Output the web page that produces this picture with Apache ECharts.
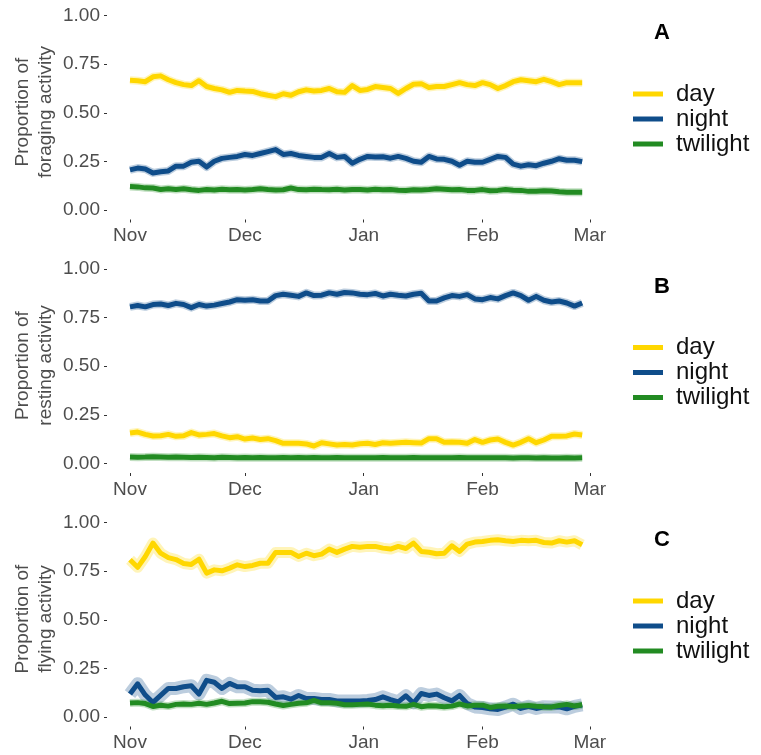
<!DOCTYPE html>
<html>
<head>
<meta charset="utf-8">
<script src="https://cdn.jsdelivr.net/npm/echarts@6/dist/echarts.min.js"></script>
<style>
html, body { margin: 0; padding: 0; background: #fff; }
#chart { width: 761px; height: 755px; }
</style>
</head>
<body>
<div id="chart"></div>
<script>
// days since Nov 1 (every second day)
const days = [0, 2, 4, 6, 8, 10, 12, 14, 16, 18, 20, 22, 24, 26, 28, 30, 32, 34, 36, 38,
  40, 42, 44, 46, 48, 50, 52, 54, 56, 58, 60, 62, 64, 66, 68, 70, 72, 74, 76, 78,
  80, 82, 84, 86, 88, 90, 92, 94, 96, 98, 100, 102, 104, 106, 108, 110, 112, 114, 116, 118]
const monthStarts = [0, 30, 61, 92, 120]
const monthNames = ['Nov', 'Dec', 'Jan', 'Feb', 'Mar']
const yTicks = [0, 0.25, 0.5, 0.75, 1]
const groups = ['day', 'night', 'twilight']
const panelLetters = ['A', 'B', 'C']
const yTitles = ['Proportion of\nforaging activity', 'Proportion of\nresting activity', 'Proportion of\nflying activity']

// A: foraging
const foragingDay = [0.667, 0.665, 0.66, 0.685, 0.69, 0.67, 0.655, 0.645, 0.64, 0.665, 0.635, 0.625, 0.618, 0.605, 0.615, 0.612, 0.61, 0.598, 0.59, 0.583,
  0.598, 0.59, 0.608, 0.618, 0.612, 0.615, 0.625, 0.608, 0.605, 0.64, 0.615, 0.62, 0.635, 0.63, 0.625, 0.60, 0.625, 0.647, 0.65, 0.63,
  0.635, 0.635, 0.645, 0.655, 0.645, 0.64, 0.655, 0.645, 0.625, 0.64, 0.66, 0.67, 0.665, 0.66, 0.672, 0.66, 0.645, 0.655, 0.655, 0.655]
const foragingNight = [0.206, 0.215, 0.21, 0.19, 0.196, 0.20, 0.225, 0.225, 0.245, 0.25, 0.22, 0.25, 0.265, 0.27, 0.275, 0.285, 0.28, 0.29, 0.30, 0.31,
  0.285, 0.29, 0.28, 0.275, 0.27, 0.27, 0.29, 0.27, 0.275, 0.24, 0.26, 0.275, 0.272, 0.273, 0.266, 0.275, 0.265, 0.25, 0.245, 0.275,
  0.262, 0.26, 0.25, 0.23, 0.25, 0.245, 0.245, 0.26, 0.275, 0.27, 0.235, 0.225, 0.232, 0.227, 0.24, 0.25, 0.263, 0.255, 0.255, 0.248]
const foragingTwilight = [0.12, 0.118, 0.113, 0.112, 0.105, 0.108, 0.104, 0.108, 0.103, 0.1, 0.104, 0.102, 0.106, 0.103, 0.105, 0.102, 0.104, 0.108, 0.104, 0.102,
  0.103, 0.112, 0.104, 0.103, 0.106, 0.104, 0.103, 0.106, 0.102, 0.105, 0.104, 0.102, 0.106, 0.103, 0.105, 0.101, 0.1, 0.103, 0.102, 0.104,
  0.108, 0.106, 0.103, 0.104, 0.1, 0.1, 0.104, 0.098, 0.1, 0.104, 0.101, 0.1, 0.095, 0.095, 0.098, 0.097, 0.093, 0.091, 0.09, 0.09]

// B: resting
const restingDay = [0.156, 0.161, 0.149, 0.141, 0.142, 0.149, 0.139, 0.142, 0.158, 0.146, 0.149, 0.153, 0.141, 0.132, 0.137, 0.125, 0.13, 0.123, 0.127, 0.117,
  0.103, 0.103, 0.103, 0.1, 0.089, 0.106, 0.1, 0.094, 0.097, 0.094, 0.101, 0.103, 0.097, 0.106, 0.103, 0.106, 0.108, 0.106, 0.104, 0.127,
  0.127, 0.108, 0.11, 0.108, 0.103, 0.122, 0.108, 0.12, 0.125, 0.108, 0.094, 0.108, 0.127, 0.106, 0.12, 0.139, 0.139, 0.141, 0.151, 0.146]
const restingNight = [0.806, 0.813, 0.806, 0.818, 0.821, 0.813, 0.824, 0.818, 0.802, 0.818, 0.81, 0.815, 0.823, 0.831, 0.843, 0.84, 0.843, 0.836, 0.836, 0.864,
  0.871, 0.866, 0.86, 0.878, 0.864, 0.866, 0.878, 0.871, 0.88, 0.878, 0.871, 0.869, 0.875, 0.862, 0.871, 0.866, 0.862, 0.871, 0.876, 0.836,
  0.836, 0.852, 0.864, 0.86, 0.869, 0.847, 0.843, 0.854, 0.847, 0.864, 0.878, 0.864, 0.84, 0.86, 0.84, 0.831, 0.836, 0.826, 0.81, 0.826]
const restingTwilight = [0.032, 0.031, 0.032, 0.034, 0.033, 0.031, 0.032, 0.031, 0.03, 0.031, 0.03, 0.029, 0.031, 0.03, 0.029, 0.03, 0.029, 0.03, 0.028, 0.029,
  0.03, 0.029, 0.03, 0.029, 0.03, 0.028, 0.029, 0.03, 0.028, 0.029, 0.029, 0.028, 0.029, 0.03, 0.029, 0.028, 0.029, 0.03, 0.029, 0.028,
  0.029, 0.028, 0.029, 0.03, 0.028, 0.029, 0.028, 0.029, 0.028, 0.029, 0.027, 0.028, 0.028, 0.027, 0.028, 0.027, 0.027, 0.028, 0.027, 0.028]

// C: flying
const flyingDay = [0.809, 0.77, 0.826, 0.895, 0.843, 0.82, 0.81, 0.79, 0.785, 0.812, 0.74, 0.757, 0.752, 0.766, 0.783, 0.774, 0.78, 0.791, 0.791, 0.847,
  0.847, 0.847, 0.826, 0.843, 0.83, 0.838, 0.864, 0.847, 0.864, 0.878, 0.874, 0.878, 0.878, 0.869, 0.864, 0.878, 0.867, 0.895, 0.852, 0.848,
  0.84, 0.843, 0.881, 0.852, 0.89, 0.9, 0.903, 0.909, 0.912, 0.907, 0.903, 0.909, 0.907, 0.909, 0.898, 0.895, 0.907, 0.9, 0.907, 0.886]
const flyingNight = [0.117, 0.17, 0.112, 0.074, 0.11, 0.146, 0.146, 0.155, 0.16, 0.117, 0.188, 0.178, 0.146, 0.172, 0.155, 0.155, 0.137, 0.134, 0.137, 0.1,
  0.103, 0.091, 0.11, 0.094, 0.094, 0.089, 0.089, 0.082, 0.081, 0.082, 0.081, 0.084, 0.089, 0.103, 0.089, 0.077, 0.108, 0.071, 0.12, 0.11,
  0.117, 0.098, 0.082, 0.11, 0.068, 0.051, 0.048, 0.041, 0.038, 0.05, 0.065, 0.043, 0.054, 0.043, 0.052, 0.051, 0.051, 0.041, 0.054, 0.061]
const flyingTwilight = [0.071, 0.073, 0.068, 0.053, 0.059, 0.055, 0.064, 0.066, 0.064, 0.07, 0.064, 0.071, 0.08, 0.068, 0.07, 0.071, 0.078, 0.077, 0.075, 0.066,
  0.058, 0.064, 0.07, 0.072, 0.085, 0.072, 0.072, 0.07, 0.062, 0.062, 0.064, 0.066, 0.06, 0.057, 0.06, 0.056, 0.054, 0.064, 0.052, 0.057,
  0.056, 0.052, 0.055, 0.066, 0.056, 0.06, 0.06, 0.048, 0.054, 0.055, 0.053, 0.056, 0.058, 0.054, 0.052, 0.051, 0.058, 0.064, 0.056, 0.062]

const panels = [
  [foragingDay, foragingNight, foragingTwilight],
  [restingDay, restingNight, restingTwilight],
  [flyingDay, flyingNight, flyingTwilight]
]
const colors = ['#FFD700', '#0F4D8A', '#228B22']
// width of the light confidence band behind each line
const bandWidths = [[8, 8, 8], [8, 8, 8], [11, 13, 8]]

const font = '"Liberation Sans", Arial, sans-serif'
const step = 253.5

const chart = echarts.init(document.getElementById('chart'))
const grid = [], xAxis = [], yAxis = [], legend = [], title = [], graphic = [], bands = [], lines = []

panels.forEach((values, i) => {
  grid.push({ left: 107, width: 502, top: 6 + i * step, height: 213.5 })
  xAxis.push({
    type: 'value',
    gridIndex: i,
    min: -6,
    max: 125,
    axisLine: { show: false, onZero: false },
    splitLine: { show: false },
    axisTick: { customValues: monthStarts, length: 3, lineStyle: { color: '#333' } },
    axisLabel: {
      customValues: monthStarts,
      formatter: v => monthNames[monthStarts.indexOf(v)],
      margin: 7,
      fontSize: 19,
      color: '#4d4d4d',
      fontFamily: font
    }
  })
  yAxis.push({
    type: 'value',
    gridIndex: i,
    min: -0.05,
    max: 1.05,
    axisLine: { show: false, onZero: false },
    splitLine: { show: false },
    axisTick: { customValues: yTicks, length: 3, lineStyle: { color: '#333' } },
    axisLabel: {
      customValues: yTicks,
      formatter: v => v.toFixed(2),
      margin: 7,
      fontSize: 19,
      color: '#4d4d4d',
      fontFamily: font
    }
  })
  // y axis title, rotated
  graphic.push({
    type: 'text',
    x: 34,
    y: 112 + i * step,
    rotation: Math.PI / 2,
    style: {
      text: yTitles[i],
      align: 'center',
      verticalAlign: 'middle',
      fontSize: 19,
      lineHeight: 23,
      fill: '#4d4d4d',
      fontFamily: font
    }
  })
  legend.push({
    data: groups,
    orient: 'vertical',
    left: 633,
    top: 82 + i * step,
    padding: 0,
    icon: 'rect',
    itemWidth: 30,
    itemHeight: 5,
    itemGap: 1,
    selectedMode: false,
    textStyle: { fontSize: 24, lineHeight: 24, color: '#111', fontFamily: font, padding: [0, 0, 0, 8] }
  })
  title.push({
    text: panelLetters[i],
    left: 654,
    top: 22 + i * step,
    padding: 0,
    textStyle: { fontSize: 22, fontWeight: 'bold', color: '#000', fontFamily: font }
  })
  values.forEach((vals, k) => {
    const data = days.map((d, j) => [d, vals[j]])
    bands.push({
      name: groups[k] + ' band',
      type: 'line',
      xAxisIndex: i,
      yAxisIndex: i,
      data: data,
      showSymbol: false,
      silent: true,
      z: 1,
      lineStyle: { color: colors[k], width: bandWidths[i][k], opacity: 0.28, join: 'round' }
    })
    lines.push({
      name: groups[k],
      type: 'line',
      xAxisIndex: i,
      yAxisIndex: i,
      data: data,
      color: colors[k],
      showSymbol: false,
      z: 2,
      lineStyle: { color: colors[k], width: 5, join: 'round' }
    })
  })
})

chart.setOption({
  animation: false,
  grid: grid,
  xAxis: xAxis,
  yAxis: yAxis,
  legend: legend,
  title: title,
  graphic: graphic,
  series: lines.concat(bands)
})
</script>
</body>
</html>
